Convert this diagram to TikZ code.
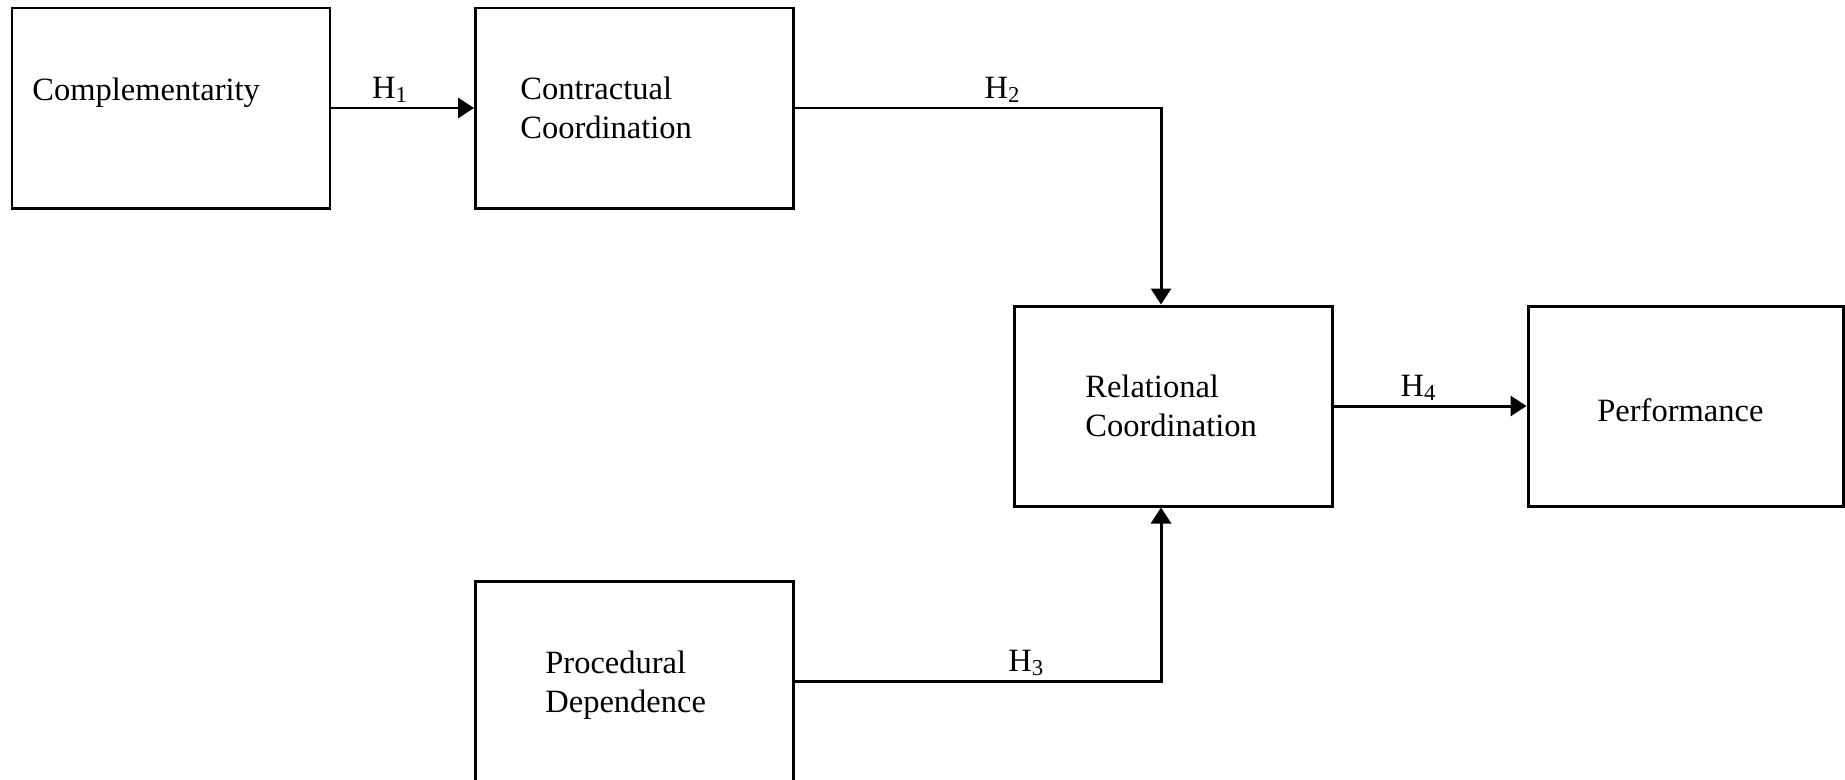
\documentclass[tikz,border=0pt]{standalone}
\usepackage{fontspec}
\setmainfont{Liberation Serif}
\usetikzlibrary{arrows.meta}

\begin{document}
\begin{tikzpicture}[box/.style={draw,line width=1.7pt,minimum width=6.36cm,minimum height=4cm,inner sep=0pt},
  txt/.style={anchor=base west,align=left,inner sep=0pt,font=\fontsize{18.5}{22}\selectfont},
  hyp/.style={anchor=base,yshift=0.2cm,inner sep=0pt,font=\fontsize{18.5}{22}\selectfont},
  link/.style={line width=1.7pt,-{Triangle[length=0.32cm,width=0.4cm]}}]
\useasboundingbox (0,0) rectangle (36.9,-15.58);
\node [box] (comp) at (3.42,-2.16) {};
\node [box] (contr) at (12.69,-2.16) {};
\node [box] (rel) at (23.46,-8.12) {};
\node [box,minimum width=6.3cm] (perf) at (33.71,-8.12) {};
\node [box] (proc) at (12.69,-13.62) {};
\node [txt] (comptxt) at (0.64,-2.0) {Complementarity};
\node [txt] (contrtxt) at (10.4,-2.76) {Contractual\\Coordination};
\node [txt] (reltxt) at (21.7,-8.72) {Relational\\Coordination};
\node [txt] (perftxt) at (31.94,-8.42) {Performance};
\node [txt] (proctxt) at (10.9,-14.24) {Procedural\\Dependence};
\coordinate (turn2) at (23.22,-2.16);
\coordinate (turn3) at (23.22,-13.62);
\draw [link] (comp) -- node [hyp,pos=0.41] (h1) {H\textsubscript{1}} (contr);
\draw [link] (contr.east) -- node [hyp,pos=0.567] (h2) {H\textsubscript{2}} (turn2) -- (turn2 |- rel.north);
\draw [link] (proc.east) -- node [hyp,pos=0.632] (h3) {H\textsubscript{3}} (turn3) -- (turn3 |- rel.south);
\draw [link] (rel) -- node [hyp,pos=0.44] (h4) {H\textsubscript{4}} (perf);
\end{tikzpicture}
\end{document}
